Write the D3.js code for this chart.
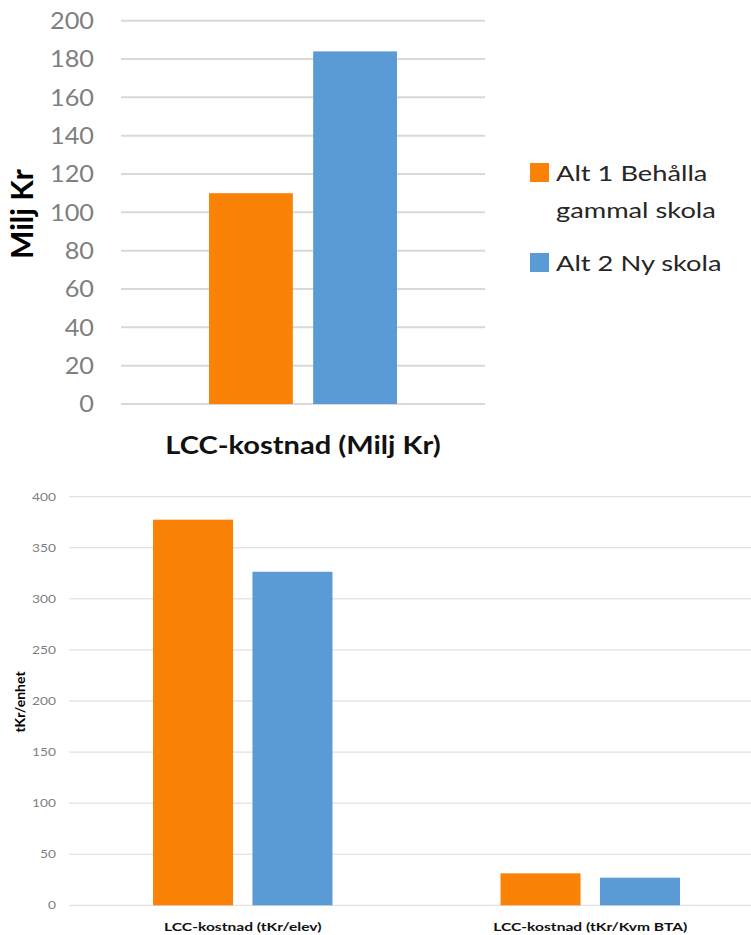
<!DOCTYPE html>
<html><head><meta charset="utf-8">
<script src="https://cdn.jsdelivr.net/npm/d3@7"></script>
<style>body{margin:0;background:#fff}svg{display:block}</style>
</head><body>
<svg id="c" width="751" height="935"></svg>
<script>
// ---- data ----
const seriesNames = ["Alt 1 Behålla gammal skola", "Alt 2 Ny skola"];
const seriesColors = ["#fa8207", "#5b9bd5"];
const topCategories = ["LCC-kostnad (Milj Kr)"];
const topAlt1 = [110];
const topAlt2 = [184];
const topTicks = [0, 20, 40, 60, 80, 100, 120, 140, 160, 180, 200];
const bottomCategories = ["LCC-kostnad (tKr/elev)", "LCC-kostnad (tKr/Kvm BTA)"];
const bottomAlt1 = [377.5, 31.3];
const bottomAlt2 = [326.5, 27];
const bottomTicks = [0, 50, 100, 150, 200, 250, 300, 350, 400];

const svg = d3.select("#c");
const font = "Lato, 'Open Sans', sans-serif";

function drawChart(o) {
  const g = svg.append("g");
  const y = d3.scaleLinear().domain([0, o.max]).range([o.y0, o.y1]);
  const x0 = d3.scaleBand().domain(o.cats).range([o.xL, o.xR]).padding(0);
  const x1 = d3.scaleBand().domain(seriesNames).range([0, x0.bandwidth()])
    .paddingInner(0.195).paddingOuter(0.845);
  // gridlines
  g.append("g").selectAll("line").data(o.ticks).join("line")
    .attr("x1", o.xL).attr("x2", o.gridR)
    .attr("y1", d => y(d)).attr("y2", d => y(d))
    .attr("stroke", "#d9d9d9").attr("stroke-width", o.gw);
  // tick labels
  g.append("g").selectAll("text").data(o.ticks).join("text")
    .attr("transform", d => `translate(${o.tickX},${y(d)}) scale(${o.tickSX},1)`)
    .attr("dy", "0.36em")
    .attr("text-anchor", "end").attr("font-family", font)
    .attr("font-size", o.tickSize).attr("fill", "#7f7f7f").text(d => d);
  // bars
  const rows = o.cats.map((c, i) => ({c, vals: [o.s1[i], o.s2[i]]}));
  const grp = g.append("g").selectAll("g").data(rows).join("g")
    .attr("transform", d => `translate(${x0(d.c)},0)`);
  grp.selectAll("rect").data(d => d.vals.map((v, j) => ({v, s: seriesNames[j], j})))
    .join("rect")
    .attr("x", d => x1(d.s)).attr("width", x1.bandwidth())
    .attr("y", d => y(d.v)).attr("height", d => y(0) - y(d.v))
    .attr("fill", d => seriesColors[d.j]);
  // category labels
  g.append("g").selectAll("text").data(o.cats).join("text")
    .attr("transform", d => `translate(${x0(d) + x0.bandwidth() / 2},${o.catY}) scale(${o.catSX},1)`)
    .attr("text-anchor", "middle").attr("font-family", font).attr("font-weight", "bold")
    .attr("font-size", o.catSize).attr("fill", "#111").text(d => d);
  // y title
  g.append("text")
    .attr("transform", `translate(${o.titleX},${o.titleY}) rotate(-90)`)
    .attr("text-anchor", "middle").attr("font-family", font).attr("font-weight", "bold")
    .attr("font-size", o.titleSize).attr("fill", "#000").text(o.title);
}

drawChart({cats: topCategories, s1: topAlt1, s2: topAlt2, ticks: topTicks, max: 200,
  y0: 404, y1: 20.7, xL: 121, xR: 485, gridR: 485, gw: 2,
  tickX: 94, tickSize: 23, tickSX: 1.1, catY: 453.5, catSize: 25.5, catSX: 1.14,
  title: "Milj Kr", titleX: 33, titleY: 214, titleSize: 30});

drawChart({cats: bottomCategories, s1: bottomAlt1, s2: bottomAlt2, ticks: bottomTicks, max: 400,
  y0: 905.3, y1: 496.7, xL: 69, xR: 764, gridR: 751, gw: 1,
  tickX: 56, tickSize: 11.5, tickSX: 1.2, catY: 930.5, catSize: 12, catSX: 1.3,
  title: "tKr/enhet", titleX: 25, titleY: 702, titleSize: 14});

// legend
const leg = svg.append("g");
const legItems = [
  {lines: ["Alt 1 Behålla", "gammal skola"], color: seriesColors[0], y: 163},
  {lines: ["Alt 2 Ny skola"], color: seriesColors[1], y: 253}
];
legItems.forEach(it => {
  leg.append("rect").attr("x", 530).attr("y", it.y).attr("width", 19).attr("height", 19)
    .attr("fill", it.color);
  it.lines.forEach((l, i) => {
    leg.append("text")
      .attr("transform", `translate(556,${it.y + 18 + i * 37}) scale(1.24,1)`)
      .attr("font-family", font).attr("font-size", 22).attr("fill", "#262626").text(l);
  });
});
</script>
</body></html>
